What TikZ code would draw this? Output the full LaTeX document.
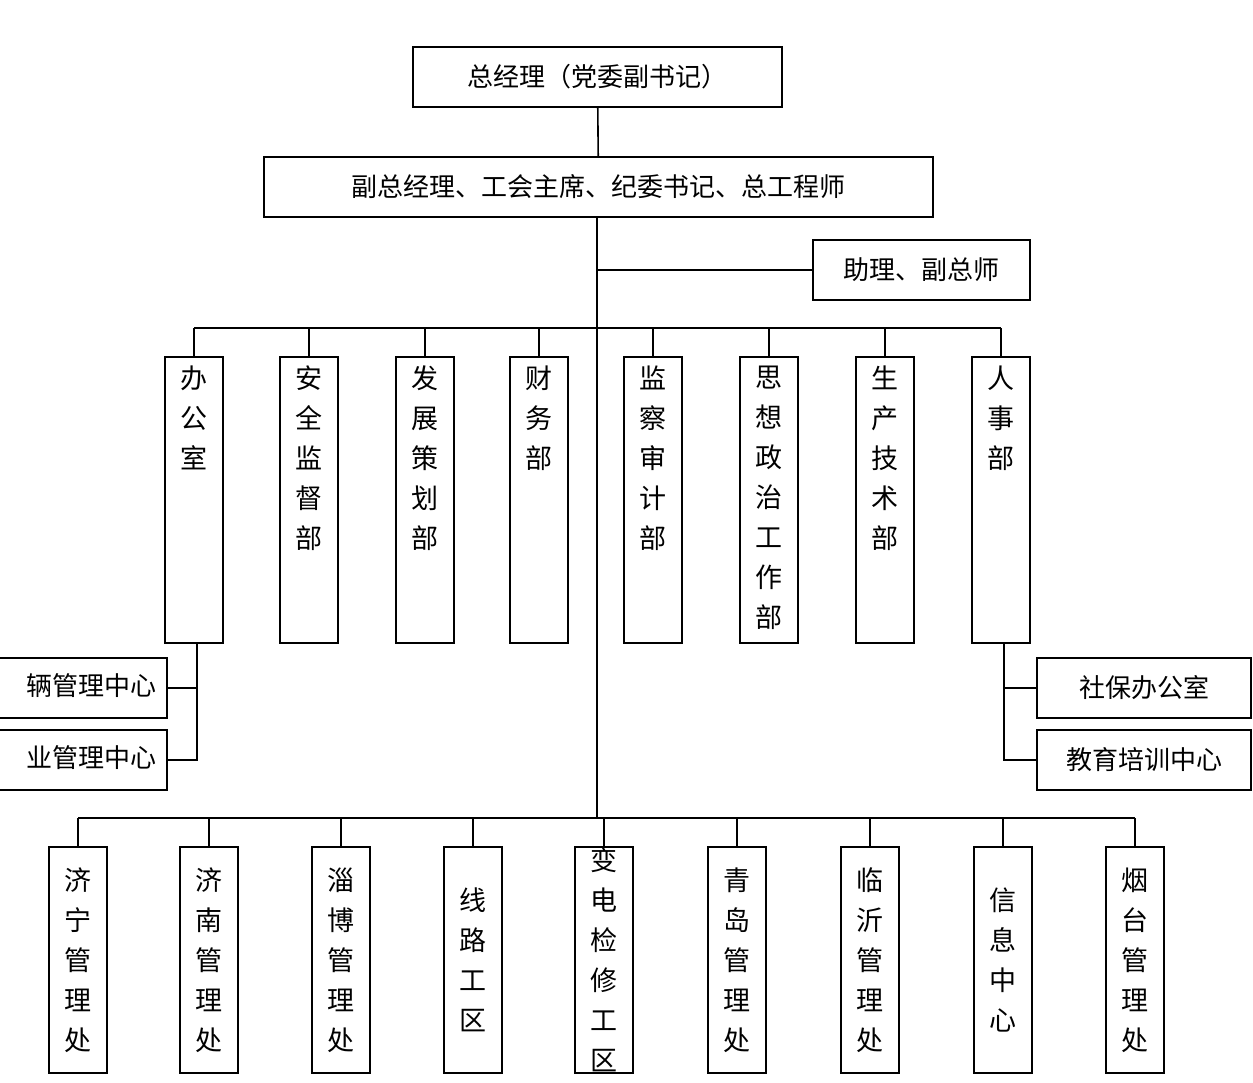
\documentclass[tikz,border=0pt]{standalone}
\usepackage{fontspec}
\newfontfamily\cjk{Noto Sans CJK SC}
\begin{document}
\begin{tikzpicture}[x=1pt,y=-1pt,
  bx/.style={draw,line width=1.6pt,inner sep=0pt},
  ln/.style={line width=1.6pt},
  ht/.style={font=\cjk\fontsize{26}{30}\selectfont},
  vt/.style={font=\cjk\fontsize{27}{40}\selectfont,align=center,anchor=north}]
\useasboundingbox (0,0) rectangle (1253,1083);
\clip (0,0) rectangle (1253,1083);
\node[bx,minimum width=369pt,minimum height=60pt,ht] (gm) at (597.5,77) {总经理（党委副书记）};
\node[bx,minimum width=669pt,minimum height=60pt,ht] (vp) at (598.5,187) {副总经理、工会主席、纪委书记、总工程师};
\node[bx,minimum width=217pt,minimum height=60pt,ht] (as) at (921.5,270) {助理、副总师};
\coordinate (t1) at (597,270);
\coordinate (top) at (597,328);
\coordinate (bot) at (597,818);
\draw[ln] (gm) -- (vp);
\draw[ln] (vp.south -| top) -- (bot);
\draw[ln] (t1) -- (as.west);
% departments
\foreach \n/\x/\t in {d1/194/办\\公\\室,d2/309/安\\全\\监\\督\\部,d3/425/发\\展\\策\\划\\部,d4/539/财\\务\\部,d5/653/监\\察\\审\\计\\部,d6/769/思\\想\\政\\治\\工\\作\\部,d7/885/生\\产\\技\\术\\部,d8/1001/人\\事\\部}{
  \node[bx,minimum width=58pt,minimum height=286pt] (\n) at (\x,500) {};
  \node[vt] at (\x,362) {\t};
  \draw[ln] (\n.north) -- (\x,328);
}
\draw[ln] (d1.north |- top) -- (d8.north |- top);
% left subs
\node[bx,minimum width=230pt,minimum height=60pt] (l1) at (52,688) {};
\node[ht,anchor=east] at (160,686) {辆管理中心};
\node[bx,minimum width=230pt,minimum height=60pt] (l2) at (52,760) {};
\node[ht,anchor=east] at (160,758) {业管理中心};
\coordinate (lc) at (197,760);
\draw[ln] (d1.south -| lc) -- (lc) -- (l2.east);
\draw[ln] (l1.east) -- (l1.east -| lc);
% right subs
\node[bx,minimum width=214pt,minimum height=60pt,ht] (r1) at (1144,688) {社保办公室};
\node[bx,minimum width=214pt,minimum height=60pt,ht] (r2) at (1144,760) {教育培训中心};
\coordinate (rc) at (1004,760);
\draw[ln] (d8.south -| rc) -- (rc) -- (r2.west);
\draw[ln] (r1.west) -- (r1.west -| rc);
% bottom units
\foreach \n/\x/\t in {b1/78/济\\宁\\管\\理\\处,b2/209/济\\南\\管\\理\\处,b3/341/淄\\博\\管\\理\\处,b4/473/线\\路\\工\\区,b5/604/变\\电\\检\\修\\工\\区,b6/737/青\\岛\\管\\理\\处,b7/870/临\\沂\\管\\理\\处,b8/1003/信\\息\\中\\心,b9/1135/烟\\台\\管\\理\\处}{
  \node[bx,minimum width=58pt,minimum height=226pt] (\n) at (\x,960) {};
  \node[vt,anchor=center] at (\x,960) {\t};
  \draw[ln] (\n.north) -- (\x,818);
}
\draw[ln] (b1.north |- bot) -- (b9.north |- bot);
\end{tikzpicture}
\end{document}
